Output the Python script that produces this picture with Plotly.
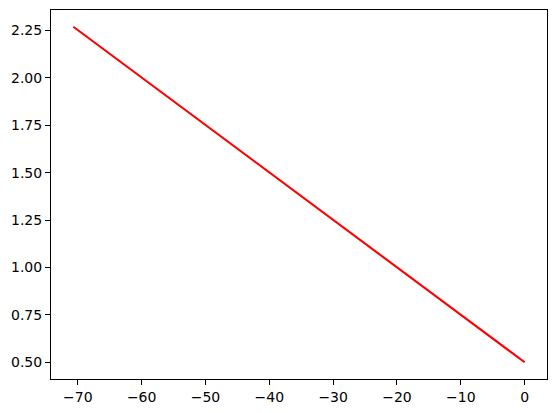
import plotly.graph_objects as go

x_vals = [-70.7, 0.0]
y_vals = [2.27, 0.5]
x_ticks = [-70, -60, -50, -40, -30, -20, -10, 0]
y_ticks = [0.5, 0.75, 1.0, 1.25, 1.5, 1.75, 2.0, 2.25]

fig = go.Figure()
fig.add_trace(go.Scatter(x=x_vals, y=y_vals, mode="lines",
                         line=dict(color="red", width=2.1), showlegend=False))

axis_common = dict(showline=True, linecolor="black", linewidth=1.1, mirror=True,
                   ticks="outside", ticklen=5, tickwidth=1.1, tickcolor="black",
                   showgrid=False, zeroline=False, automargin=False,
                   tickfont=dict(family="DejaVu Sans", size=14, color="black"))

fig.update_layout(
    width=548, height=405,
    margin=dict(l=43, r=9, t=2, b=34),
    plot_bgcolor="white", paper_bgcolor="white",
    xaxis=dict(range=[-74.2, 3.5], tickvals=x_ticks,
               ticktext=[("\u2212" + str(-v)) if v < 0 else str(v) for v in x_ticks],
               **axis_common),
    yaxis=dict(range=[0.4115, 2.3585], tickvals=y_ticks,
               ticktext=[f"{v:.2f}" for v in y_ticks], **axis_common),
)

fig.write_html("out.html")
